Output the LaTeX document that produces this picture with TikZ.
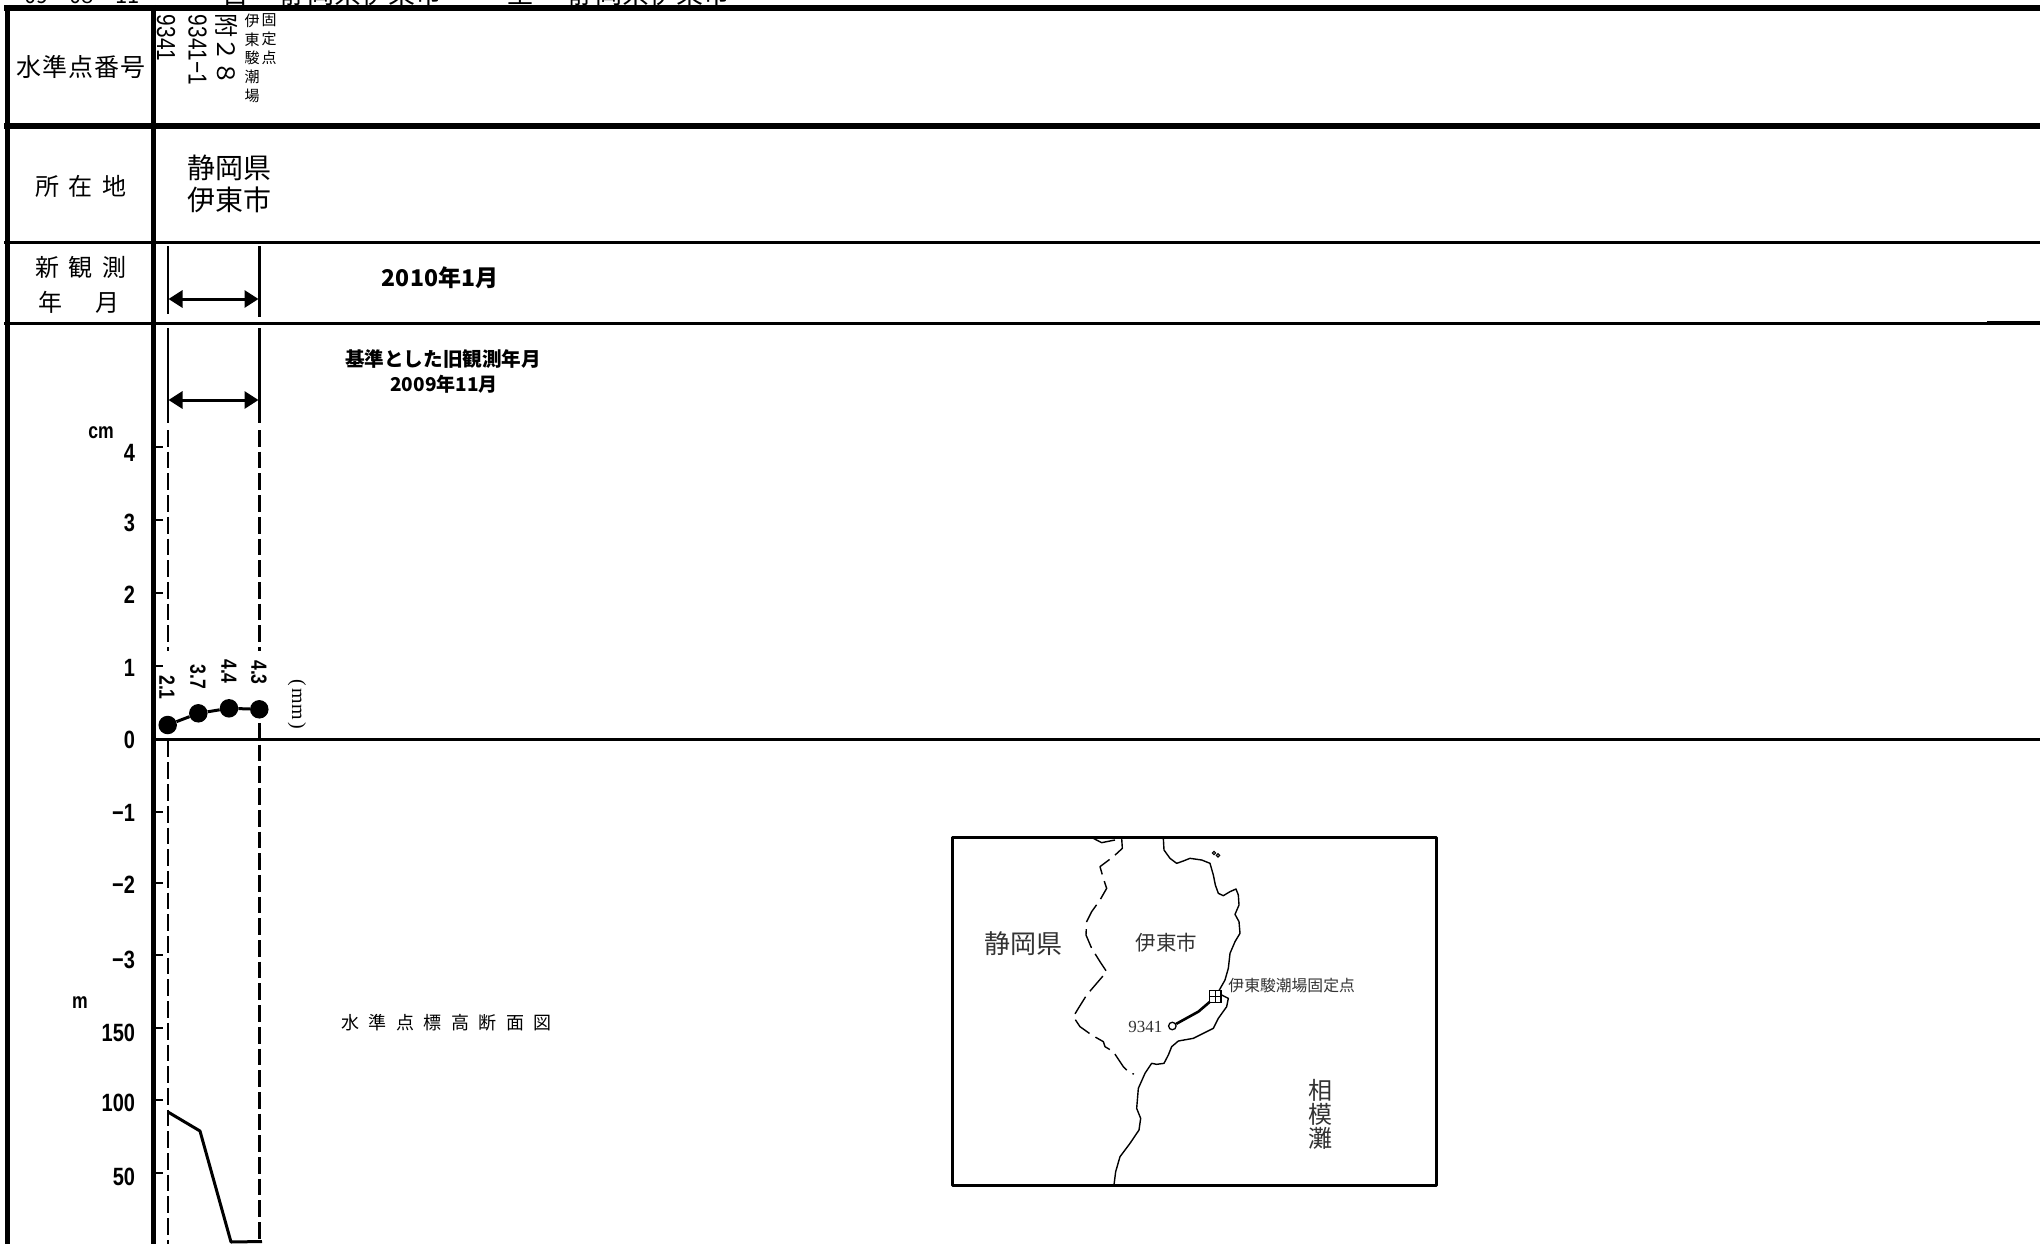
\documentclass[tikz,border=0pt]{standalone}
\usepackage{fontspec}
\usepackage{graphicx}
\usetikzlibrary{arrows.meta}
\newfontfamily\cjk{Noto Sans CJK JP}
\newfontfamily\cond[FakeStretch=.8]{Liberation Sans}
\newfontfamily\seriff{Liberation Serif}
\newcommand{\fsz}[2]{\fontsize{#1}{#2}\selectfont}
\tikzset{
  txt/.style={inner sep=0pt,outer sep=0pt},
  head/.style={txt,font=\cjk\fsz{24}{30}},
  axisnum/.style={txt,anchor=east,font=\cond\bfseries\fsz{25}{25}},
  valnum/.style={txt,rotate=-90,font=\cond\bfseries\fsz{22}{22}},
  toprot/.style={txt,rotate=-90,anchor=west},
  rule6/.style={line width=6pt},
  rule3/.style={line width=3pt},
  tick/.style={line width=2.5pt},
  guideL/.style={line width=2.2pt},
  guideR/.style={line width=3pt},
  dashL/.style={guideL,dash pattern=on 16.7pt off 5pt},
  dashR/.style={guideR,dash pattern=on 16.7pt off 5pt},
  span/.style={line width=3pt,{Triangle[length=14pt,width=17pt]}-{Triangle[length=14pt,width=17pt]}},
  datapt/.style={circle,fill=black,inner sep=0pt,minimum size=18.5pt},
  mapline/.style={line width=1.4pt,line join=round},
  maptxt/.style={txt,text=black!80,font=\cjk},
}
\begin{document}
\begin{tikzpicture}[x=1pt,y=-1pt]
\useasboundingbox (0,0) rectangle (2040,1244);
\clip (0,0) rectangle (2040,1244);
\fill[white] (0,0) rectangle (2040,1244);

% clipped heading at the top edge
\node[txt,anchor=base] (hdate) at (82,4) {\cjk\fsz{22}{22}09\hspace{21pt}08\hspace{21pt}11};
\node[txt,anchor=base] (hfrom) at (235,4) {\cjk\fsz{26}{26}自};
\node[txt,anchor=base] (hfromn) at (361,4) {\cjk\fsz{27}{27}静岡県伊東市};
\node[txt,anchor=base] (hto) at (520,4) {\cjk\fsz{26}{26}至};
\node[txt,anchor=base] (hton) at (649,4) {\cjk\fsz{27}{27}静岡県伊東市};

% table rules
\draw[rule6] (4,8) -- (2040,8);
\draw[rule6] (4,126) -- (2040,126);
\draw[rule3] (4,242.5) -- (2040,242.5);
\draw[rule3] (4,323.5) -- (2040,323.5);
\fill (1987,321) rectangle (2040,325);
\draw[line width=5.5pt] (7.5,5) -- (7.5,1244);
\draw[line width=5.5pt] (153.5,5) -- (153.5,1244);

% left-column headings
\node[head,font=\cjk\fsz{25}{30}] (h1) at (81,67) {水\hspace{1pt}準\hspace{1pt}点\hspace{1pt}番\hspace{1pt}号};
\node[head] (h2) at (81,186) {所\hspace{9.5pt}在\hspace{9.5pt}地};
\node[head] (h3) at (81,267) {新\hspace{9.5pt}観\hspace{9.5pt}測};
\node[head] (h4) at (79,302) {年\hspace{33pt}月};

% station names, rotated
\node[toprot,font=\cond\fsz{26}{26}] (n1) at (166,15) {9341};
\node[toprot,font=\cond\fsz{26}{26}] (n2) at (197.5,15) {9341−1};
\node[toprot,font=\cjk\fsz{24}{24}] (n3) at (227,14) {附２８};
\node[txt,anchor=north,align=center,font=\cjk\fsz{15}{18.7}] (n4) at (252,14) {伊\\東\\駿\\潮\\場};
\node[txt,anchor=north,align=center,font=\cjk\fsz{15}{18.7}] (n5) at (269,14) {固\\定\\点};

% location
\node[txt,align=left,font=\cjk\fsz{28}{32}] (loc) at (229,184) {静岡県\\伊東市};

% spans
\coordinate (s1a) at (167.7,246); \coordinate (s1b) at (167.7,314);
\coordinate (s2a) at (259.5,246); \coordinate (s2b) at (259.5,317);
\draw[guideL] (s1a) -- (s1b);
\draw[guideR] (s2a) -- (s2b);
\coordinate (a1) at (168.5,299); \coordinate (a2) at (258.5,299);
\draw[span] (a1) -- (a2);
\node[txt,font=\cjk\bfseries\fsz{23}{23}] (ny) at (440,278) {2010年1月};

\coordinate (s3a) at (167.7,328); \coordinate (s3b) at (167.7,423);
\coordinate (s4a) at (259.5,328); \coordinate (s4b) at (259.5,423);
\draw[guideL] (s3a) -- (s3b);
\draw[guideR] (s4a) -- (s4b);
\coordinate (a3) at (168.5,400); \coordinate (a4) at (258.5,400);
\draw[span] (a3) -- (a4);
\node[txt,font=\cjk\bfseries\fsz{19.6}{19.6}] (oldt) at (443,359) {基準とした旧観測年月};
\node[txt,font=\cjk\bfseries\fsz{19}{19}] (oldy) at (444,384) {2009年11月};

% dashed guides
\coordinate (d1a) at (167.7,430); \coordinate (d1b) at (167.7,651);
\coordinate (d2a) at (259.5,430); \coordinate (d2b) at (259.5,651);
\coordinate (d3a) at (167.7,740.7); \coordinate (d3b) at (167.7,1244);
\coordinate (d4a) at (259.5,723); \coordinate (d4b) at (259.5,1244);
\draw[dashL] (d1a) -- (d1b);
\draw[dashR] (d2a) -- (d2b);
\draw[dashL] (d3a) -- (d3b);
\draw[dashR] (d4a) -- (d4b);

% zero line and ticks
\draw[line width=2.6pt] (156,739.5) -- (2040,739.5);
\foreach \yy in {447,520,593,666,739,812,883,955,1028,1100,1173}
  \draw[tick] (156,\yy) -- (163,\yy);

% axis labels
\node[txt,font=\cond\bfseries\fsz{22}{22}] (cm) at (101,433) {cm};
\node[txt,font=\cond\bfseries\fsz{22}{22}] (munit) at (80,1003) {m};
\node[axisnum] (t4) at (135,453) {4};
\node[axisnum] (t3) at (135,523) {3};
\node[axisnum] (t2) at (135,595) {2};
\node[axisnum] (t1) at (135,668) {1};
\node[axisnum] (t0) at (135,740) {0};
\node[axisnum] (tm1) at (135,813) {−1};
\node[axisnum] (tm2) at (135,885) {−2};
\node[axisnum] (tm3) at (135,960) {−3};
\node[axisnum] (t150) at (135,1033) {150};
\node[axisnum] (t100) at (135,1103) {100};
\node[axisnum] (t50) at (135,1177) {50};

% data points
\node[datapt] (p1) at (167.7,725) {};
\node[datapt] (p2) at (198.3,713.3) {};
\node[datapt] (p3) at (229,708.3) {};
\node[datapt] (p4) at (259.3,709.3) {};
\draw[line width=3pt] (p1) -- (p2) -- (p3) -- (p4);
\node[valnum] (v1) at (167,687.5) {2.1};
\node[valnum] (v2) at (198,677) {3.7};
\node[valnum] (v3) at (229,671.5) {4.4};
\node[valnum] (v4) at (259,672.5) {4.3};
\node[txt,rotate=-90,font=\seriff\fsz{20}{20}] (mm) at (297,704.5) {(\hspace{2.5pt}mm\hspace{2.5pt})};

% profile
\coordinate (q1) at (168,1112); \coordinate (q2) at (200,1131);
\coordinate (q3) at (231,1242); \coordinate (q4) at (262,1241.5);
\draw[line width=3pt,line join=round] (q1) -- (q2) -- (q3) -- (q4);
\node[txt,font=\cjk\fsz{18}{18}] (prof) at (446.5,1023) {水\hspace{9.5pt}準\hspace{9.5pt}点\hspace{9.5pt}標\hspace{9.5pt}高\hspace{9.5pt}断\hspace{9.5pt}面\hspace{9.5pt}図};

% inset map (coordinates in 1/3 px)
\begin{scope}[shift={(940,825)},x=.33333pt,y=-.33333pt]
\draw[line width=3pt,line join=round] (36,36) rectangle (1488,1082);
\draw[mapline] (670,40) -- (672,75) -- (690,100) -- (710,115) -- (730,108) -- (750,100) -- (785,105) -- (810,115) -- (820,150) -- (826,180) -- (835,205) -- (850,212) -- (870,200) -- (888,192) -- (895,210) -- (897,240) -- (885,268) -- (897,290) -- (900,325) -- (885,350) -- (870,385) -- (865,430) -- (855,465) -- (838,495) -- (845,510) -- (865,520) -- (860,545) -- (835,580) -- (820,610) -- (790,625) -- (760,640) -- (715,648) -- (695,665) -- (685,690) -- (672,715) -- (650,718) -- (635,715) -- (615,745) -- (595,790) -- (590,850) -- (602,880) -- (597,915) -- (570,955) -- (540,995) -- (527,1040) -- (522,1080);
\draw[mapline,dash pattern=on 20pt off 7pt] (545,40) -- (547,70) -- (520,95) -- (480,125) -- (490,160) -- (500,190) -- (480,225) -- (455,260) -- (440,290) -- (438,330) -- (455,370) -- (480,410) -- (500,440) -- (470,475) -- (440,510) -- (415,550) -- (400,575) -- (420,605) -- (455,630) -- (490,650) -- (495,665) -- (520,680) -- (550,725) -- (570,745) -- (582,747);
\draw[mapline] (460,40) -- (485,53) -- (525,45);
\draw[line width=1.1pt] (822,84) circle[radius=5];
\draw[line width=1.1pt] (834,91) circle[radius=5];
\draw[line width=1.1pt,fill=white] (808,497) rectangle (843,532);
\draw[line width=1.1pt] (825.5,497) -- (825.5,532) (808,514.5) -- (843,514.5);
\coordinate (sq) at (810,530);
\node[circle,draw,fill=white,line width=1.3pt,inner sep=0pt,minimum size=7.5pt] (bm) at (697,603) {};
\draw[line width=2.6pt,line join=round] (bm) -- (775,560) -- (sq);
\node[maptxt,font=\cjk\fsz{26}{26}] (mp) at (251,355) {静岡県};
\node[maptxt,font=\cjk\fsz{20.5}{20.5}] (mc) at (680,352) {伊東市};
\node[maptxt,font=\cjk\fsz{15.8}{15.8}] (mf) at (1055,483) {伊東駿潮場固定点};
\node[maptxt,font=\seriff\fsz{17}{17}] (mn) at (616,607) {9341};
\node[maptxt,align=center,font=\cjk\fsz{24}{24}] (ms) at (1140,868) {相\\模\\灘};
\end{scope}
\end{tikzpicture}
\end{document}
